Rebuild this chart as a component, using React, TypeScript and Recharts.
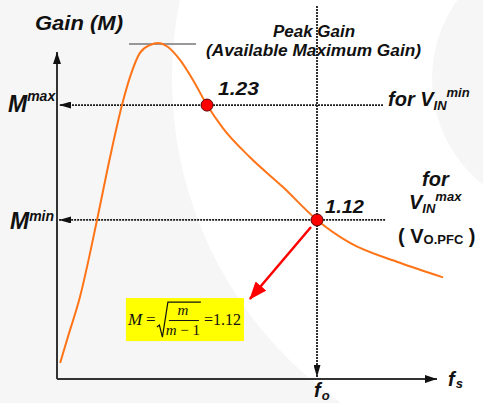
import React from 'react';
import {
  ComposedChart,
  Line,
  Scatter,
  XAxis,
  YAxis,
  ReferenceLine,
  ReferenceArea,
} from 'recharts';

// Normalised switching frequency fs/fo and gain M of the curve
const freq = [0.012, 0.042, 0.088, 0.154, 0.204, 0.25, 0.281, 0.319, 0.358, 0.388, 0.427, 0.473, 0.523, 0.577, 0.638, 0.742, 0.869, 1.0, 1.127, 1.319, 1.485];
const gainValues = [0.983, 1.008, 1.046, 1.12, 1.18, 1.23, 1.257, 1.28, 1.2875, 1.2895, 1.2856, 1.2732, 1.254, 1.23, 1.208, 1.18, 1.1515, 1.12, 1.098, 1.079, 1.065];

// operating points
const opFreq = [0.577, 1.0];
const opGain = [1.23, 1.12];
const opLabels = ['1.23', '1.12'];

// guide values
const M_MAX = 1.23;
const M_MIN = 1.12;
const PEAK_GAIN = 1.2885;
const F_O = 1.0;
const AXIS_GAIN = 0.9676;
const Y_AXIS_TOP = 1.2808;
const X_AXIS_END = 1.4615;
const GUIDE_RIGHT = [1.254, 1.262];
const GUIDE_LEFT = 0.0077;
const F_O_TOP = 1.325;
const F_O_BOTTOM = 0.9695;
const PEAK_SPAN = [0.277, 0.535];
const POINTER_FROM = { f: 0.977, g: 1.1132 };
const POINTER_TO = { f: 0.742, g: 1.0443 };
const BOX_F = [0.265, 0.719];
const BOX_G = [1.004, 1.0452];

const curve = freq.map((f, i) => ({ f, g: gainValues[i] }));
const points = opFreq.map((f, i) => ({ f, g: opGain[i], label: opLabels[i] }));

const SANS = '"Liberation Sans", Arial, sans-serif';
const SERIF = '"Liberation Serif", "Times New Roman", serif';

const lineShape = (stroke: string, width: number, dash?: string, marker?: string) => (p: any) => (
  <line
    x1={p.x1}
    y1={p.y1}
    x2={p.x2}
    y2={p.y2}
    stroke={stroke}
    strokeWidth={width}
    strokeDasharray={dash}
    markerEnd={marker ? `url(#${marker})` : undefined}
  />
);

const FormulaBox = (p: any) => {
  const { x, y, width, height } = p;
  return (
    <g>
      <rect x={x} y={y} width={width} height={height} fill="#ffff00" />
      <text x={x + 2} y={y + 27} fontFamily={SERIF} fontStyle="italic" fontSize={17} fill="#111">M</text>
      <text x={x + 20} y={y + 27} fontFamily={SERIF} fontSize={17} fill="#111">=</text>
      <path
        d={`M${x + 31},${y + 29} L${x + 33.5},${y + 27} L${x + 36.5},${y + 39} L${x + 42},${y + 4} L${x + 75},${y + 4}`}
        fill="none"
        stroke="#111"
        strokeWidth={1.2}
      />
      <text x={x + 57} y={y + 17} textAnchor="middle" fontFamily={SERIF} fontStyle="italic" fontSize={15} fill="#111">m</text>
      <line x1={x + 43} y1={y + 22.5} x2={x + 73} y2={y + 22.5} stroke="#111" strokeWidth={1} />
      <text x={x + 57} y={y + 37} textAnchor="middle" fontFamily={SERIF} fontSize={15} fill="#111">
        <tspan fontStyle="italic">m</tspan>
        <tspan> − 1</tspan>
      </text>
      <text x={x + 78} y={y + 27} fontFamily={SERIF} fontSize={16} fill="#111">=1.12</text>
    </g>
  );
};

const OpDot = (p: any) => (
  <circle cx={p.cx} cy={p.cy} r={6} fill="#ff0000" stroke="#5a0000" strokeWidth={1} />
);

const Background = () => (
  <svg width={483} height={403} style={{ position: 'absolute', left: 0, top: 0 }}>
    <rect x={0} y={0} width={483} height={403} fill="#f6f6f6" />
    <path
      fillRule="evenodd"
      fill="#ffffff"
      d="M567,79 m-395,0 a395,395 0 1,0 790,0 a395,395 0 1,0 -790,0 Z M567,79 m-135,0 a135,135 0 1,0 270,0 a135,135 0 1,0 -270,0 Z"
    />
  </svg>
);

const boldItalic = { fontFamily: SANS, fontWeight: 700, fontStyle: 'italic' as const, fill: '#111' };
const bold = { fontFamily: SANS, fontWeight: 700, fill: '#111' };

const Annotations = () => (
  <svg width={483} height={403} style={{ position: 'absolute', left: 0, top: 0, pointerEvents: 'none' }}>
    <text x={35} y={30} fontSize={20} textLength={88} lengthAdjust="spacingAndGlyphs" {...boldItalic}>Gain (M)</text>
    <text x={273} y={36.5} fontSize={16} textLength={82} lengthAdjust="spacingAndGlyphs" {...boldItalic}>Peak Gain</text>
    <text x={206} y={56} fontSize={16} textLength={215} lengthAdjust="spacingAndGlyphs" {...boldItalic}>(Available Maximum Gain)</text>

    <text x={218} y={95} fontSize={19} textLength={41} lengthAdjust="spacingAndGlyphs" {...boldItalic}>{opLabels[0]}</text>
    <text x={325} y={213} fontSize={19} textLength={39} lengthAdjust="spacingAndGlyphs" {...boldItalic}>{opLabels[1]}</text>

    <text x={388} y={106} fontSize={20} {...boldItalic}>
      for V<tspan fontSize={13} dy={4}>IN</tspan>
      <tspan fontSize={13} dy={-13}>min</tspan>
    </text>

    <text x={8} y={112} fontSize={23} {...boldItalic}>
      M<tspan fontSize={14} dy={-11}>max</tspan>
    </text>
    <text x={10} y={229} fontSize={23} {...boldItalic}>
      M<tspan fontSize={14} dy={-8}>min</tspan>
    </text>

    <text x={422} y={186} fontSize={20} {...boldItalic}>for</text>
    <text x={409} y={209} fontSize={20} {...boldItalic}>
      V<tspan fontSize={13} dy={4}>IN</tspan>
      <tspan fontSize={13} dy={-12}>max</tspan>
    </text>
    <text x={398} y={243} fontSize={20} {...bold}>
      ( V<tspan fontSize={13} dy={1}>O.PFC</tspan>
      <tspan dy={-1}> )</tspan>
    </text>

    <text x={448} y={386} fontSize={20} {...boldItalic}>
      f<tspan fontSize={13} dy={2} dx={1}>s</tspan>
    </text>
    <text x={314} y={397} fontSize={20} {...boldItalic}>
      f<tspan fontSize={13} dy={3} dx={1}>o</tspan>
    </text>
  </svg>
);

export default function App() {
  return (
    <div style={{ position: 'absolute', left: 0, top: 0, width: 483, height: 403 }}>
      <Background />
      <div style={{ position: 'absolute', left: 0, top: 0 }}>
        <svg width={0} height={0} style={{ position: 'absolute' }}>
          <defs>
            <marker id="axisHead" viewBox="0 0 12 8" refX={12} refY={4} markerWidth={12} markerHeight={8} markerUnits="userSpaceOnUse" orient="auto">
              <path d="M0,0 L12,4 L0,8 z" fill="#111" />
            </marker>
            <marker id="guideHead" viewBox="0 0 12 7" refX={12} refY={3.5} markerWidth={12} markerHeight={7} markerUnits="userSpaceOnUse" orient="auto">
              <path d="M0,0 L12,3.5 L0,7 z" fill="#111" />
            </marker>
            <marker id="redHead" viewBox="0 0 18 14" refX={17} refY={7} markerWidth={18} markerHeight={14} markerUnits="userSpaceOnUse" orient="auto">
              <path d="M0,0 L18,7 L0,14 z" fill="#ff0000" />
            </marker>
          </defs>
        </svg>
        <ComposedChart width={483} height={403} data={curve} margin={{ top: 32, right: 10, bottom: 16, left: 57 }}>
          <XAxis type="number" dataKey="f" domain={[0, 1.6]} hide />
          <YAxis type="number" domain={[0.96, 1.3]} hide />

          <ReferenceArea
            x1={BOX_F[0]}
            x2={BOX_F[1]}
            y1={BOX_G[0]}
            y2={BOX_G[1]}
            ifOverflow="visible"
            shape={FormulaBox}
          />

          {/* axes */}
          <ReferenceLine
            segment={[{ x: 0, y: AXIS_GAIN }, { x: 0, y: Y_AXIS_TOP }]}
            ifOverflow="visible"
            shape={lineShape('#333', 2, undefined, 'axisHead')}
          />
          <ReferenceLine
            segment={[{ x: 0, y: AXIS_GAIN }, { x: X_AXIS_END, y: AXIS_GAIN }]}
            ifOverflow="visible"
            shape={lineShape('#333', 2, undefined, 'axisHead')}
          />

          {/* guides */}
          <ReferenceLine
            segment={[{ x: F_O, y: F_O_TOP }, { x: F_O, y: F_O_BOTTOM }]}
            ifOverflow="visible"
            shape={lineShape('#1a1a1a', 1.8, '2 1', 'guideHead')}
          />
          <ReferenceLine
            segment={[{ x: GUIDE_RIGHT[0], y: M_MAX }, { x: GUIDE_LEFT, y: M_MAX }]}
            ifOverflow="visible"
            shape={lineShape('#1a1a1a', 1.8, '2 1', 'guideHead')}
          />
          <ReferenceLine
            segment={[{ x: GUIDE_RIGHT[1], y: M_MIN }, { x: GUIDE_LEFT, y: M_MIN }]}
            ifOverflow="visible"
            shape={lineShape('#1a1a1a', 1.8, '2 1', 'guideHead')}
          />
          <ReferenceLine
            segment={[{ x: PEAK_SPAN[0], y: PEAK_GAIN }, { x: PEAK_SPAN[1], y: PEAK_GAIN }]}
            ifOverflow="visible"
            shape={lineShape('#777', 1.5)}
          />

          <Line
            type="monotone"
            dataKey="g"
            stroke="#ff7417"
            strokeWidth={2}
            dot={false}
            isAnimationActive={false}
          />

          <ReferenceLine
            segment={[{ x: POINTER_FROM.f, y: POINTER_FROM.g }, { x: POINTER_TO.f, y: POINTER_TO.g }]}
            ifOverflow="visible"
            shape={lineShape('#ff0000', 2.5, undefined, 'redHead')}
          />

          <Scatter data={points} dataKey="g" shape={OpDot} isAnimationActive={false} />
        </ComposedChart>
      </div>
      <Annotations />
    </div>
  );
}
